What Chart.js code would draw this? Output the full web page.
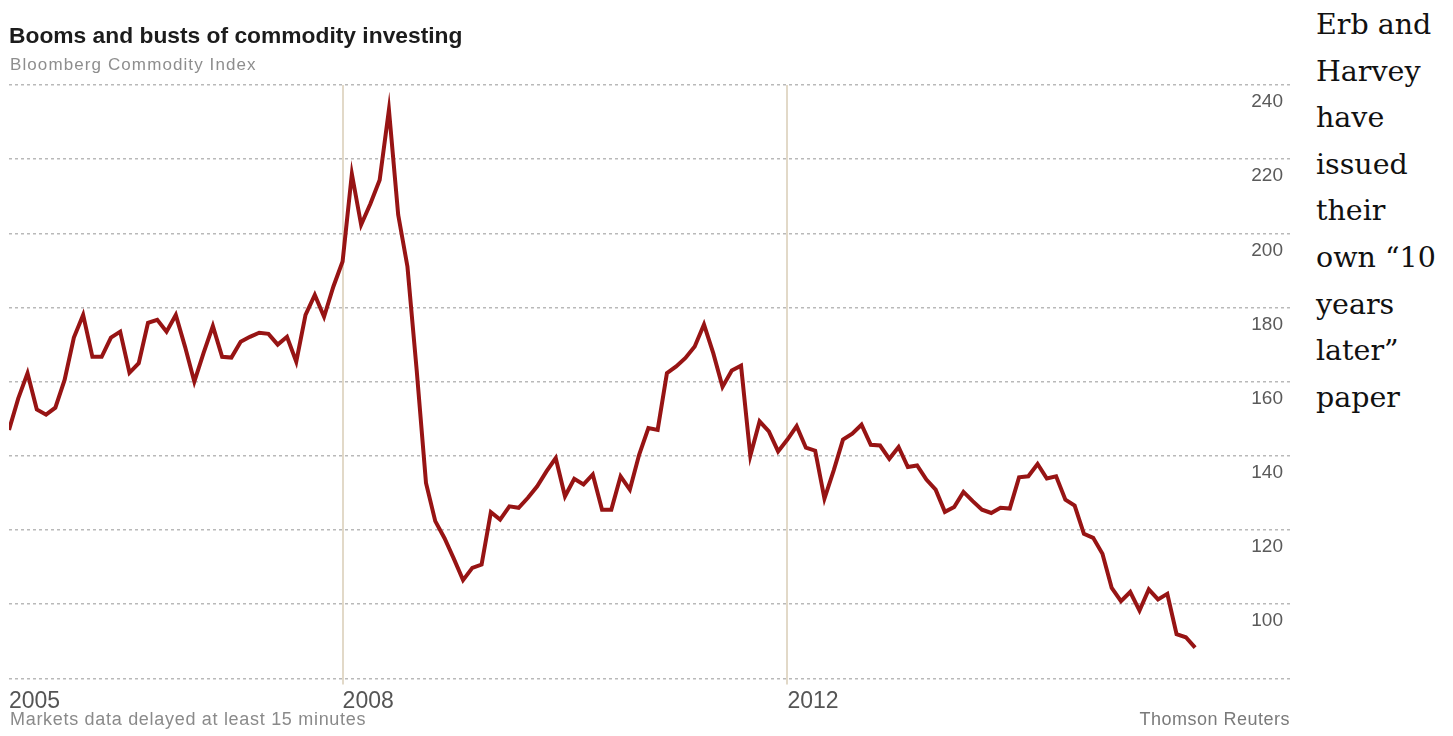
<!DOCTYPE html>
<html>
<head>
<meta charset="utf-8">
<script src="https://cdn.jsdelivr.net/npm/chart.js@4.4.1/dist/chart.umd.min.js"></script>
<style>
html,body{margin:0;padding:0;background:#fff;width:1453px;height:736px;overflow:hidden;}
#wrap{position:relative;width:1453px;height:736px;}
#c{position:absolute;left:0;top:0;}
.t{position:absolute;white-space:nowrap;font-family:"Liberation Sans",Arial,sans-serif;line-height:1;}
#title{left:9px;top:24px;font-size:22.8px;font-weight:bold;color:#1c1c1c;}
#sub{left:10px;top:56px;font-size:17px;letter-spacing:1.1px;color:#8e8e8e;}
#foot{left:10px;top:710px;font-size:18px;letter-spacing:0.7px;color:#8a8a8a;}
#src{right:163px;top:710px;font-size:18px;letter-spacing:0.5px;color:#7a7a7a;}
#note{position:absolute;left:1316px;top:2px;font-family:"DejaVu Serif","Liberation Serif",serif;font-size:28.5px;line-height:46.6px;color:#111;white-space:nowrap;}
</style>
</head>
<body>
<div id="wrap">
  <canvas id="c" width="1300" height="736"></canvas>
  <div class="t" id="title">Booms and busts of commodity investing</div>
  <div class="t" id="sub">Bloomberg Commodity Index</div>
  <div class="t" id="foot">Markets data delayed at least 15 minutes</div>
  <div class="t" id="src">Thomson Reuters</div>
  <div id="note">Erb and<br>Harvey<br>have<br>issued<br>their<br>own “10<br>years<br>later”<br>paper</div>
</div>
<script>
// Monthly index values, Jan 2005 onward
const startYear = 2005;
const values = [
  147.0, 155.5, 162.3, 152.5, 151.1, 153.0, 160.5, 171.9, 178.0, 166.7, 166.7, 171.9,
  173.5, 162.4, 165.0, 175.9, 176.7, 173.5, 178.0, 169.4, 160.0, 167.8, 175.0, 166.7,
  166.5, 170.8, 172.1, 173.2, 172.9, 170.0, 172.1, 165.4, 178.0, 183.4, 177.5, 185.6,
  192.4, 216.0, 202.3, 208.0, 214.4, 233.3, 205.0, 191.0, 163.0, 132.7, 122.4, 117.8,
  112.3, 106.5, 109.8, 110.7, 124.8, 122.8, 126.4, 126.0, 128.7, 131.8, 135.8, 139.4,
  129.1, 133.8, 132.3, 135.0, 125.5, 125.5, 134.5, 130.9, 140.3, 147.5, 147.0, 162.3,
  164.1, 166.4, 169.5, 175.4, 167.7, 158.6, 163.0, 164.3, 140.0, 149.3, 146.6, 141.2,
  144.4, 148.0, 142.2, 141.4, 128.5, 136.1, 144.4, 146.0, 148.4, 143.0, 142.8, 139.2,
  142.4, 137.0, 137.4, 133.6, 130.9, 124.9, 126.2, 130.3, 127.8, 125.5, 124.6, 126.0,
  125.8, 134.2, 134.5, 137.8, 133.9, 134.5, 128.2, 126.6, 119.0, 117.9, 113.6, 104.4,
  100.8, 103.3, 98.3, 104.0, 101.3, 102.8, 91.9, 91.1, 88.3
];
const months = values.map((_, i) => (startYear + Math.floor(i / 12)) + '-' + String(i % 12 + 1).padStart(2, '0'));
const xTickYears = [2005, 2008, 2012];
const xAxisEnd = 2016.52;
const yMin = 80, yMax = 240, yStep = 20;

const points = months.map((m, i) => ({
  x: parseInt(m.slice(0, 4), 10) + (parseInt(m.slice(5), 10) - 1) / 12,
  y: values[i]
}));

new Chart(document.getElementById('c').getContext('2d'), {
  type: 'line',
  data: {
    datasets: [{
      data: points,
      borderColor: '#971414',
      borderWidth: 4,
      pointRadius: 0,
      tension: 0,
      borderJoinStyle: 'miter',
      fill: false
    }]
  },
  options: {
    responsive: false,
    animation: false,
    devicePixelRatio: 1,
    layout: { padding: { left: 9, right: 10, top: 85, bottom: 18 } },
    plugins: { legend: { display: false }, tooltip: { enabled: false } },
    scales: {
      x: {
        type: 'linear',
        position: 'bottom',
        min: startYear,
        max: xAxisEnd,
        afterBuildTicks: s => { s.ticks = xTickYears.map(v => ({ value: v })); },
        ticks: {
          align: 'start', padding: 3, color: '#555', maxRotation: 0, autoSkip: false,
          font: { family: 'Liberation Sans', size: 23 },
          callback: v => String(v)
        },
        grid: {
          color: c => (c.tick && c.tick.value === xTickYears[0]) ? 'rgba(0,0,0,0)' : '#e2d9c8',
          lineWidth: 2, drawTicks: true, tickLength: 6
        },
        border: { display: false }
      },
      y: {
        type: 'linear',
        position: 'right',
        min: yMin,
        max: yMax,
        ticks: {
          stepSize: yStep, mirror: true, padding: -7, labelOffset: 17, color: '#5a5a5a',
          font: { family: 'Liberation Sans', size: 19 },
          callback: v => (v === yMin ? '' : String(v))
        },
        grid: { color: '#b9b9b9', lineWidth: 1.5, drawTicks: false },
        border: { display: false, dash: [3, 3] }
      }
    }
  }
});
</script>
</body>
</html>
